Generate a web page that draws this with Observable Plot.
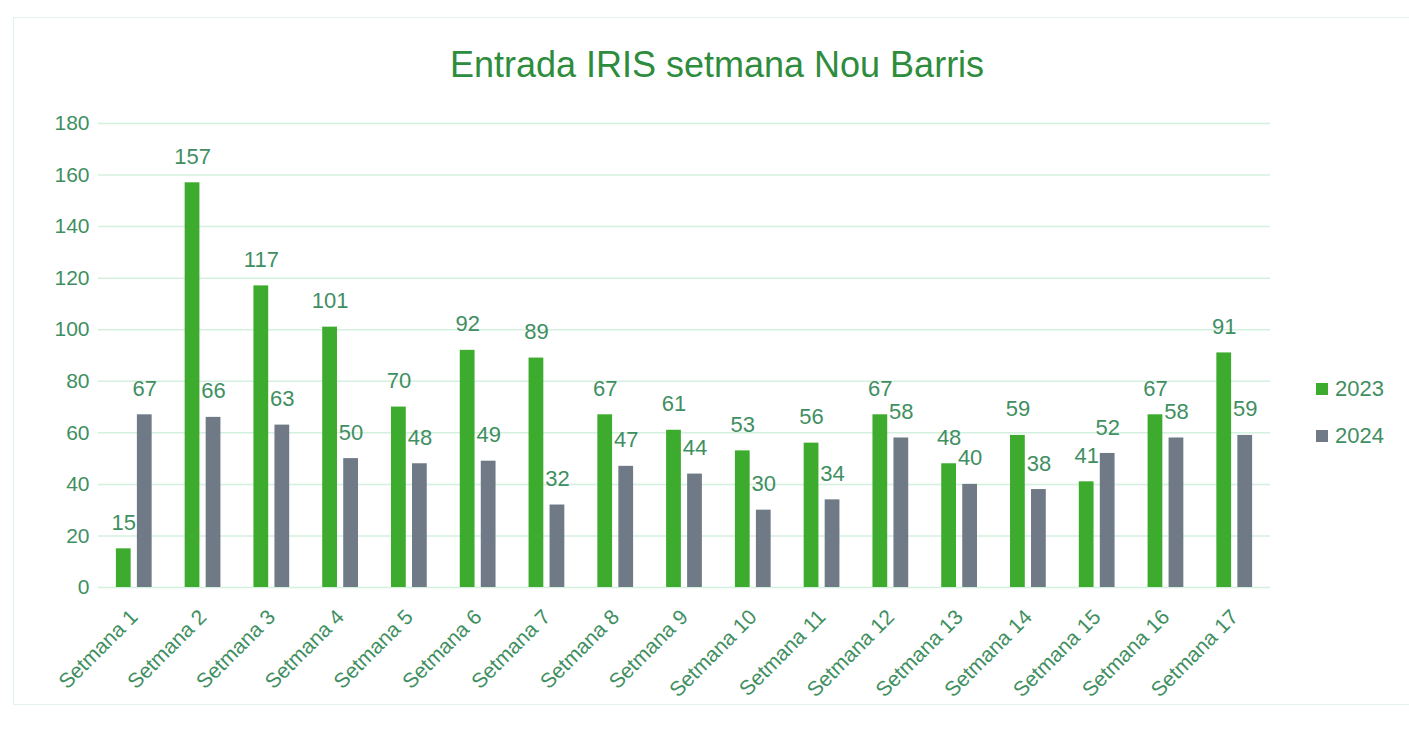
<!DOCTYPE html>
<html>
<head>
<meta charset="utf-8">
<script src="https://cdn.jsdelivr.net/npm/d3@7"></script>
<script src="https://cdn.jsdelivr.net/npm/@observablehq/plot@0.6"></script>
<style>
  html, body { margin: 0; padding: 0; background: #fff; }
  body { width: 1409px; height: 729px; position: relative; overflow: hidden; font-family: "Liberation Sans", Arial, sans-serif; }
  #frame { position: absolute; left: 13px; top: 17px; width: 1400px; height: 688px; border: 1px solid #e2f3ea; box-sizing: border-box; }
  #title { position: absolute; top: 44px; left: 717px; transform: translateX(-50%); white-space: nowrap; font-size: 36px; color: #2e8c3d; line-height: 42px; }
  #chart { position: absolute; top: 100px; left: 0; }
  .leg { position: absolute; left: 1316px; display: flex; align-items: center; font-size: 22px; color: #3f8f62; }
  .leg span.sw { width: 12px; height: 12px; display: inline-block; margin-right: 7px; }
</style>
</head>
<body>
<div id="frame"></div>
<div id="title">Entrada IRIS setmana Nou Barris</div>
<div id="chart"></div>
<div id="legend"></div>
<script>
const weeks = ["Setmana 1","Setmana 2","Setmana 3","Setmana 4","Setmana 5","Setmana 6","Setmana 7","Setmana 8","Setmana 9","Setmana 10","Setmana 11","Setmana 12","Setmana 13","Setmana 14","Setmana 15","Setmana 16","Setmana 17"];
const values2023 = [15,157,117,101,70,92,89,67,61,53,56,67,48,59,41,67,91];
const values2024 = [67,66,63,50,48,49,32,47,44,30,34,58,40,38,52,58,59];
const series = ["2023","2024"];
const seriesColors = ["#3dab2e","#6f7a86"];
const yTicks = [0,20,40,60,80,100,120,140,160,180];

const d2023 = weeks.map((w,i) => ({week: w, value: values2023[i]}));
const d2024 = weeks.map((w,i) => ({week: w, value: values2024[i]}));

const textColor = "#3f8f62";
const off = 10.5;

const chart = Plot.plot({
  width: 1409,
  height: 629,
  marginTop: 23,
  marginBottom: 142,
  marginLeft: 98,
  marginRight: 139,
  style: {fontFamily: "'Liberation Sans', Arial, sans-serif", background: "transparent"},
  x: {domain: weeks, paddingInner: 0.48, paddingOuter: 0.26, round: false, label: null},
  y: {domain: [0,180], label: null},
  marks: [
    Plot.ruleY(yTicks, {stroke: "#d4f0de", strokeWidth: 1.5}),
    Plot.axisY({ticks: yTicks, tickSize: 0, tickPadding: 9, color: textColor, fontSize: 21, label: null}),
    Plot.axisX({tickSize: 0, tickRotate: -45, tickPadding: 26, color: textColor, fontSize: 21, label: null}),
    Plot.barY(d2024, {x: "week", y: "value", fill: seriesColors[1], insetLeft: 21, insetRight: 0}),
    Plot.text(d2024, {x: "week", y: "value", text: d => String(d.value), dx: off, dy: -26, fill: textColor, fontSize: 22}),
    Plot.barY(d2023, {x: "week", y: "value", fill: seriesColors[0], insetLeft: 0, insetRight: 21}),
    Plot.text(d2023, {x: "week", y: "value", text: d => String(d.value), dx: -off, dy: -26, fill: textColor, fontSize: 22})
  ]
});
document.getElementById("chart").appendChild(chart);

const legend = document.getElementById("legend");
series.forEach((s, i) => {
  const row = document.createElement("div");
  row.className = "leg";
  row.style.top = (376 + i * 47) + "px";
  row.innerHTML = `<span class="sw" style="background:${seriesColors[i]}"></span><span>${s}</span>`;
  legend.appendChild(row);
});
</script>
</body>
</html>
